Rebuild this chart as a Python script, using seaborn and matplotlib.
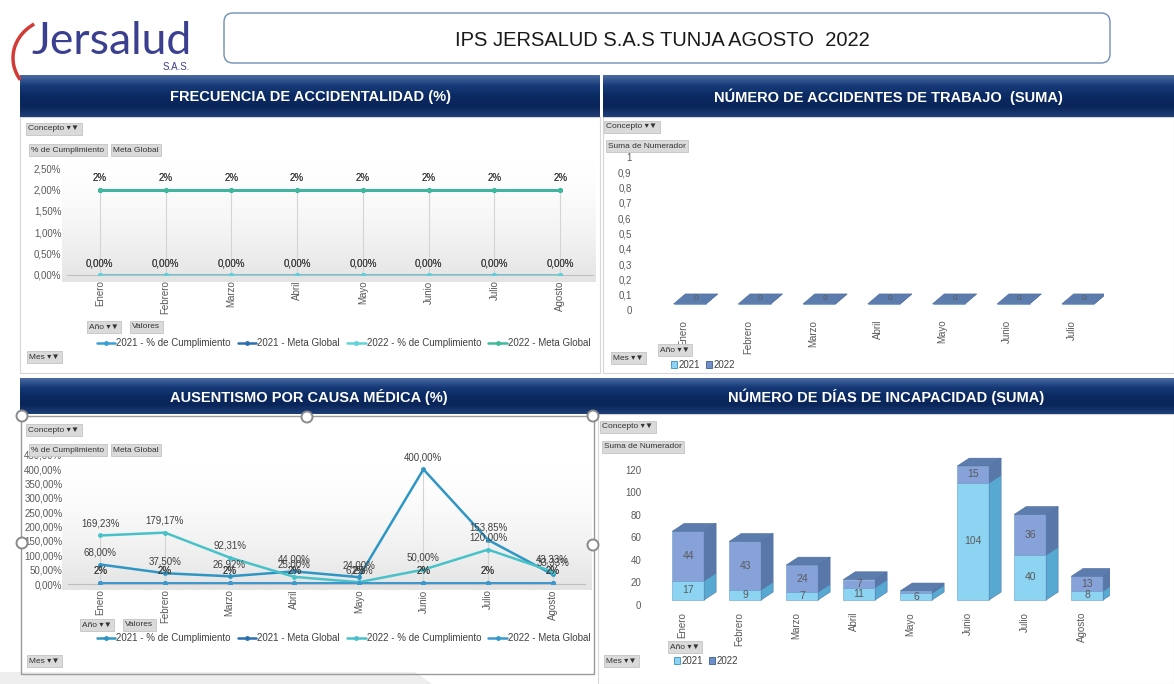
import numpy as np
import pandas as pd
import seaborn as sns
import matplotlib.pyplot as plt
from matplotlib.patches import Rectangle, Polygon, FancyBboxPatch, Circle, Arc, Patch
from matplotlib.lines import Line2D
from matplotlib.colors import LinearSegmentedColormap

# ---------------- datos ----------------
meses = ["Enero", "Febrero", "Marzo", "Abril", "Mayo", "Junio", "Julio", "Agosto"]

# Frecuencia de accidentalidad (%)
frec_cump_2021 = [0.0, 0.0, 0.0, 0.0, 0.0, 0.0, 0.0, 0.0]
frec_meta_2021 = [2, 2, 2, 2, 2, 2, 2, 2]
frec_cump_2022 = [0.0, 0.0, 0.0, 0.0, 0.0, 0.0, 0.0, 0.0]
frec_meta_2022 = [2, 2, 2, 2, 2, 2, 2, 2]

# Numero de accidentes de trabajo (suma)
acc_meses = ["Enero", "Febrero", "Marzo", "Abril", "Mayo", "Junio", "Julio"]
acc_2021 = [0, 0, 0, 0, 0, 0, 0]
acc_2022 = [0, 0, 0, 0, 0, 0, 0]

# Ausentismo por causa medica (%)
aus_cump_2021 = [68.00, 37.50, 26.92, 44.00, 24.00, 400.00, 153.85, 33.33]
aus_meta_2021 = [2, 2, 2, 2, 2, 2, 2, 2]
aus_cump_2022 = [169.23, 179.17, 92.31, 25.00, 6.25, 50.00, 120.00, 43.33]
aus_meta_2022 = [2, 2, 2, 2, 2, 2, 2, 2]

# Numero de dias de incapacidad (suma)
dias_2021 = [17, 9, 7, 11, 6, 104, 40, 8]
dias_2022 = [44, 43, 24, 7, 2, 15, 36, 13]

series_names = ["2021 - % de Cumplimiento", "2021 - Meta Global",
                "2022 - % de Cumplimiento", "2022 - Meta Global"]

# ---------------- estilo ----------------
sns.set_theme(style="white")
plt.rcParams['font.family'] = ['Liberation Sans', 'DejaVu Sans']

W, H = 1174, 684
fig = plt.figure(figsize=(W / 100, H / 100), dpi=100)
fig.patch.set_facecolor('white')


def rect(x0, y0, x1, y1):
    return [x0 / W, 1 - y1 / H, (x1 - x0) / W, (y1 - y0) / H]


bg = fig.add_axes([0, 0, 1, 1], zorder=0)
bg.axis('off')
over = fig.add_axes([0, 0, 1, 1], zorder=5)
over.axis('off')
over.patch.set_alpha(0)

txt_gray = '#595959'
lab_gray = '#404040'


def pct(v):
    return f"{v:.2f}".replace('.', ',') + '%'


def header(x0, y0, x1, y1, text):
    grad = np.linspace(0, 1, 50).reshape(-1, 1)
    cmap = LinearSegmentedColormap.from_list('hdr', ['#4a6aa0', '#163a78', '#0b2a62', '#0a2559', '#1e3f78'])
    bg.imshow(grad, extent=(x0, x1, y1, y0), cmap=cmap, aspect='auto', zorder=2)
    bg.text((x0 + x1) / 2, (y0 + y1) / 2 + 1, text, color='white', weight='bold',
            fontsize=10.5, ha='center', va='center', zorder=3)


def plot_gradient(x0, y0, x1, y1):
    grad = np.linspace(0, 1, 60).reshape(-1, 1) ** 1.6
    cmap = LinearSegmentedColormap.from_list('pg', ['#ffffff', '#e4e4e4'])
    bg.imshow(grad, extent=(x0, x1, y1, y0), cmap=cmap, aspect='auto', zorder=1)


def button(x, y, text, fs=6):
    over.text(x, y, text, fontsize=fs, va='center', ha='left', color='#333333',
              bbox=dict(boxstyle='square,pad=0.3', fc='#dadada', ec='#c4c4c4', lw=0.6))


# ---------------- encabezado ----------------
bg.add_patch(FancyBboxPatch((224, 13), 886, 50, boxstyle='round,pad=0,rounding_size=9',
                            fc='white', ec='#6f8fb5', lw=1.0, zorder=2))
bg.text(662, 40, "IPS JERSALUD S.A.S TUNJA AGOSTO  2022", fontsize=14.5, ha='center',
        va='center', color='#1a1a1a', zorder=3)
bg.text(31, 42, "Jersalud", fontsize=32, color='#3b3f8f', ha='left', va='center',
        family=['Lato', 'DejaVu Sans'], zorder=3)
bg.text(176, 67, "S.A.S.", fontsize=7, color='#3b3f8f', ha='center', va='center', zorder=3)
bg.add_patch(Arc((58, 58), 90, 80, theta1=150, theta2=235, color='#d23a35', lw=2.5, zorder=3))

header(20, 75, 600, 117, "FRECUENCIA DE ACCIDENTALIDAD (%)")
header(603, 75, 1174, 117, "NÚMERO DE ACCIDENTES DE TRABAJO  (SUMA)")
header(20, 378, 598, 414, "AUSENTISMO POR CAUSA MÉDICA (%)")
header(598, 378, 1174, 414, "NÚMERO DE DÍAS DE INCAPACIDAD (SUMA)")

# marcos de paneles
for (x0, y0, x1, y1) in [(20, 117, 600, 373), (603, 117, 1174, 373), (598, 414, 1174, 684)]:
    bg.add_patch(Rectangle((x0, y0), x1 - x0, y1 - y0, fc='white', ec='#d6d6d6', lw=0.8, zorder=0.5))
bg.add_patch(Polygon([(0, 672), (415, 672), (432, 684), (0, 684)], closed=True,
                     fc='#eeeeee', ec='none', zorder=0.6))

plot_gradient(62, 160, 596, 282)
plot_gradient(62, 462, 592, 590)

line_colors = {
    "2021 - % de Cumplimiento": '#3a9fd6',
    "2021 - Meta Global": '#2c6fb0',
    "2022 - % de Cumplimiento": '#5fd3da',
    "2022 - Meta Global": '#3dba9b',
}
aus_colors = {
    "2021 - % de Cumplimiento": '#2f96c4',
    "2021 - Meta Global": '#2c6fb0',
    "2022 - % de Cumplimiento": '#48c2c8',
    "2022 - Meta Global": '#3a9ad0',
}


def line_chart(box, data, colors, ylim, yticks, ytickfmt, label_fmt, legend_y):
    ax = fig.add_axes(rect(*box), zorder=1)
    ax.patch.set_alpha(0)
    x = np.arange(len(meses))
    tops = np.max(np.array(list(data.values())), axis=0)
    ax.vlines(x, 0, tops, color='#d4d4d4', lw=0.8, zorder=1)
    for name, vals in data.items():
        df = pd.DataFrame({'x': x, 'y': vals})
        sns.lineplot(data=df, x='x', y='y', ax=ax, color=colors[name], lw=1.8,
                     marker='o', markersize=3.5, markeredgewidth=0, zorder=3)
        for xi, v in zip(x, vals):
            ax.annotate(label_fmt(name, v), (xi, v), xytext=(0, 5), textcoords='offset points',
                        ha='center', va='bottom', fontsize=7, color=lab_gray, zorder=4)
    ax.set_xlim(-0.5, len(meses) - 0.5)
    ax.set_ylim(*ylim)
    ax.set_yticks(yticks)
    ax.set_yticklabels([ytickfmt(t) for t in yticks])
    ax.set_xticks(x)
    ax.set_xticklabels(meses, rotation=90)
    ax.tick_params(axis='x', length=0, pad=4, labelsize=7, labelcolor=txt_gray)
    ax.tick_params(axis='y', length=0, pad=4, labelsize=7, labelcolor=txt_gray)
    ax.set_xlabel('')
    ax.set_ylabel('')
    for s in ['top', 'right', 'left']:
        ax.spines[s].set_visible(False)
    ax.spines['bottom'].set_color('#bfbfbf')
    ax.spines['bottom'].set_linewidth(0.8)
    handles = [Line2D([], [], color=colors[n], lw=1.8, marker='o', markersize=2.5) for n in series_names]
    ax.legend(handles, series_names, loc='center left', ncol=4, frameon=False, fontsize=7,
              bbox_to_anchor=(88 / W, 1 - legend_y / H), bbox_transform=fig.transFigure,
              handlelength=1.9, handletextpad=0.1, columnspacing=0.75, labelcolor=lab_gray)
    return ax


def meta_or_pct(name, v):
    return f"{v:.0f}%" if "Meta" in name else pct(v)


# Frecuencia de accidentalidad
frec = {
    "2021 - % de Cumplimiento": frec_cump_2021,
    "2021 - Meta Global": frec_meta_2021,
    "2022 - % de Cumplimiento": frec_cump_2022,
    "2022 - Meta Global": frec_meta_2022,
}
yt = [0, 0.5, 1.0, 1.5, 2.0, 2.5]
line_chart((67, 166, 593, 275), frec, line_colors, (0, 2.55), yt, pct, meta_or_pct, 343)

# Ausentismo por causa medica
aus = {
    "2021 - % de Cumplimiento": aus_cump_2021,
    "2021 - Meta Global": aus_meta_2021,
    "2022 - % de Cumplimiento": aus_cump_2022,
    "2022 - Meta Global": aus_meta_2022,
}
yt = [0, 50, 100, 150, 200, 250, 300, 350, 400, 450]
line_chart((68, 455, 585, 584), aus, aus_colors, (0, 450), yt, pct, meta_or_pct, 638)


# ---------------- barras 3D ----------------
def bar3d(ax, xc, bottom, height, front, side, top, w, dx, dy, draw_top=True):
    x0 = xc - w / 2 + 0.1
    ax.add_patch(Rectangle((x0, bottom), w, height, fc=front, ec='#6a9ccc', lw=0.4, zorder=3))
    ax.add_patch(Polygon([(x0 + w, bottom), (x0 + w + dx, bottom + dy),
                          (x0 + w + dx, bottom + height + dy), (x0 + w, bottom + height)],
                         closed=True, fc=side, ec='#4f76a6', lw=0.4, zorder=3))
    if draw_top:
        t = bottom + height
        ax.add_patch(Polygon([(x0, t), (x0 + w, t), (x0 + w + dx, t + dy), (x0 + dx, t + dy)],
                             closed=True, fc=top, ec='#4c6c9c', lw=0.4, zorder=3))


def bar_chart(box, cats, s2021, s2022, ylim, yticks, tickfmt, w, dx, dy, lift, pad, ypad, legend_xy):
    ax = fig.add_axes(rect(*box), zorder=1)
    ax.patch.set_alpha(0)
    x = np.arange(len(cats))
    df = pd.DataFrame({'mes': cats, 'v': s2021})
    sns.barplot(data=df, x='mes', y='v', ax=ax, color='#8fd3f2', alpha=0)
    for xi, a, b in zip(x, s2021, s2022):
        bar3d(ax, xi, lift, a, '#8dd4f3', '#58a9d2', '#72bde2', w, dx, dy, draw_top=(b == 0 and a > 0))
        bar3d(ax, xi, lift + a, b, '#86a2d8', '#5a77a9', '#5d7cae', w, dx, dy, draw_top=True)
        if a > 0:
            ax.text(xi + 0.1, lift + a / 2, str(a), ha='center', va='center', fontsize=7.5, color='#5a5a5a', zorder=4)
        if b >= 4:
            ax.text(xi + 0.1, lift + a + b / 2, str(b), ha='center', va='center', fontsize=7.5, color='#5a5a5a', zorder=4)
        if a == 0 and b == 0:
            ax.text(xi + 0.1 + dx / 2, lift + dy / 2, "0", ha='center', va='center', fontsize=6, color='#5a5a5a', zorder=4)
    ax.set_xlim(-0.5, len(cats) - 0.5)
    ax.set_ylim(*ylim)
    ax.set_yticks(yticks)
    ax.set_yticklabels([tickfmt(t) for t in yticks])
    ax.set_xticks(x)
    ax.set_xticklabels(cats, rotation=90)
    ax.tick_params(axis='x', length=0, pad=pad, labelsize=7, labelcolor=txt_gray)
    ax.tick_params(axis='y', length=0, pad=ypad, labelsize=7, labelcolor=txt_gray)
    ax.set_xlabel('')
    ax.set_ylabel('')
    sns.despine(ax=ax, left=True, bottom=True)
    handles = [Patch(fc='#8dd4f3', ec='#3a8fc0', lw=0.6), Patch(fc='#6f8fc6', ec='#3c5f92', lw=0.6)]
    ax.legend(handles, ["2021", "2022"], loc='center left', frameon=False, fontsize=7, ncol=2,
              bbox_to_anchor=(legend_xy[0] / W, 1 - legend_xy[1] / H), bbox_transform=fig.transFigure,
              handlelength=0.6, handleheight=0.6, handletextpad=0.2, columnspacing=0.6, labelcolor=lab_gray)
    return ax


yt = [round(v * 0.1, 1) for v in range(11)]
bar_chart((651, 157, 1104, 310), acc_meses, acc_2021, acc_2022, (0, 1), yt,
          lambda t: f"{t:g}".replace('.', ','), 0.5, 0.18, 0.065, 0.04, 7, 14, (662, 365))

yt = [0, 20, 40, 60, 80, 100, 120]
bar_chart((654, 455, 1110, 605), meses, dias_2021, dias_2022, (0, 133.3), yt,
          lambda t: f"{t:g}", 0.56, 0.21, 7, 4.5, 5, 9, (665, 661))

# ---------------- botones de tabla dinamica ----------------
for (x, y) in [(28, 129), (28, 430)]:
    button(x, y, "Concepto ▾▼")
for (x, y) in [(31, 150), (31, 450)]:
    button(x, y, "% de Cumplimiento")
    button(113, y, "Meta Global")
button(89, 327, "Año ▾▼")
button(132, 327, "Valores")
button(82, 625, "Año ▾▼")
button(125, 625, "Valores")
for (x, y) in [(29, 357), (29, 661), (613, 358), (606, 661)]:
    button(x, y, "Mes ▾▼")
button(606, 127, "Concepto ▾▼")
button(602, 427, "Concepto ▾▼")
button(608, 146, "Suma de Numerador")
button(604, 447, "Suma de Numerador")
button(660, 350, "Año ▾▼")
button(670, 647, "Año ▾▼")

# marco de seleccion (panel inferior izquierdo)
over.add_patch(Rectangle((21, 416), 573, 258, fc='none', ec='#9a9a9a', lw=1.0))
for (cx, cy) in [(22, 416), (307, 417), (593, 416), (593, 545), (22, 543)]:
    over.add_patch(Circle((cx, cy), 5.5, fc='white', ec='#8a8a8a', lw=1.4))

for a in (bg, over):
    a.set_xlim(0, W)
    a.set_ylim(H, 0)

fig.savefig("out.png", dpi=100)
